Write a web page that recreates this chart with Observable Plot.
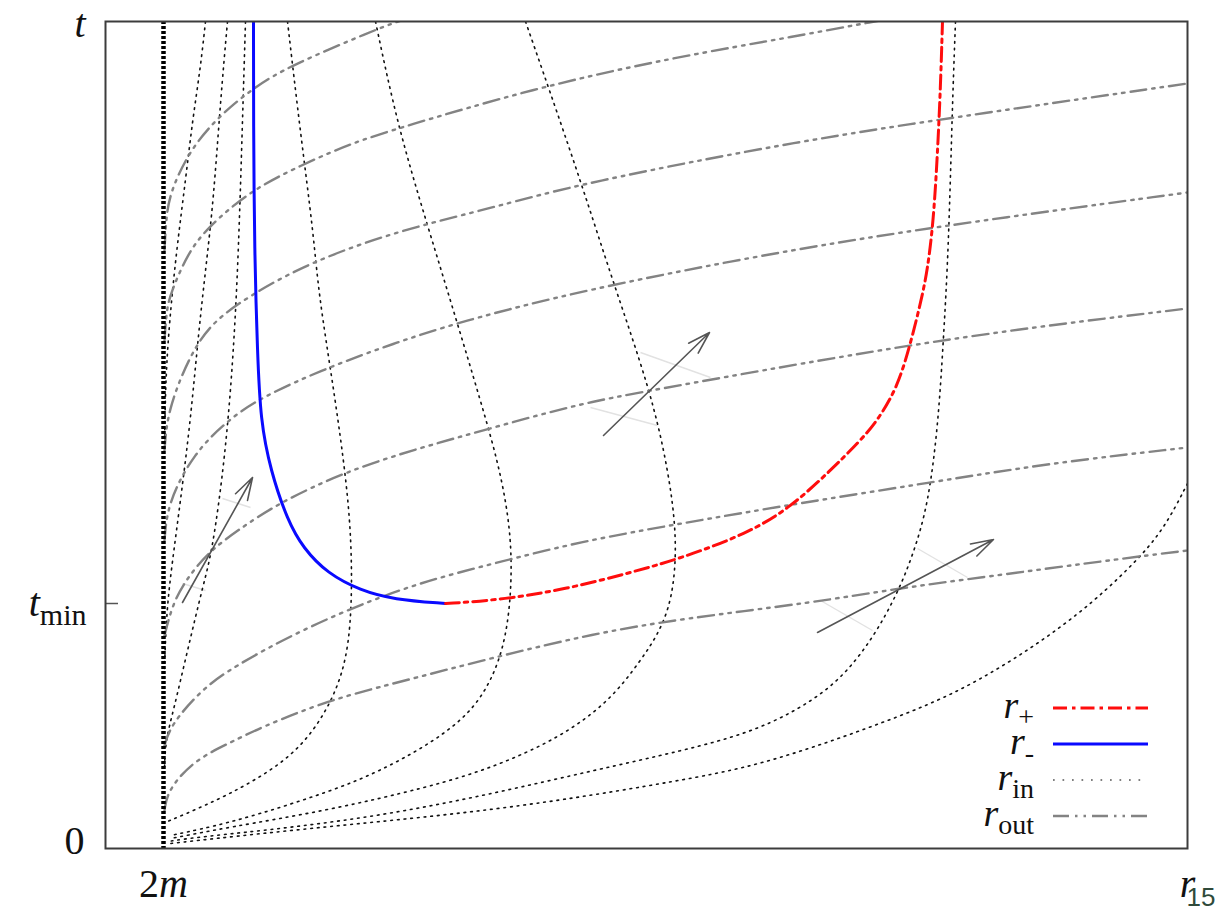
<!DOCTYPE html>
<html><head><meta charset="utf-8">
<script src="https://cdn.jsdelivr.net/npm/d3@7"></script>
<script src="https://cdn.jsdelivr.net/npm/@observablehq/plot@0.6"></script>
<style>
html,body{margin:0;padding:0;background:#fff;}
#chart{position:relative;width:1222px;height:912px;}
</style></head><body><div id="chart"></div>
<script>
// Reading scale of the figure: r to the right of the frame's left edge, t upward from 0
const rMax = 1082, tMax = 827;
const r2m = 58, tMin = 245;

const yTickValues = [0, tMin, tMax];
const yTickLabels = ["0", "$t$_min", "$t$"];
const xTickValues = [r2m, rMax];
const xTickLabels = ["2$m$", "$r$"];

// ingoing rays r_in  ([r, t] pairs)
const rIn1 = [[100,827],[95,781],[87,728],[80,668],[71,598],[64,528],[60,468],[59,400]];
const rIn2 = [[122,827],[115,748],[108,648],[100,578],[93,515],[85,428],[75,348],[67,288],[61,238],[59,180]];
const rIn3 = [[140,827],[137,728],[133,595],[128,495],[120,395],[107,298],[98,265],[82,198],[68,138],[60,108],[59,80]];
const rIn4 = [[182,827],[195,715],[208,615],[213,555],[228,461],[242,361],[247,288],[245,201],[228,148],[195,98],[145,65],[100,43],[62,27]];
const rIn5 = [[270,827],[292,723],[322,623],[348,538],[375,448],[395,378],[407,308],[405,238],[395,188],[375,148],[348,121],[308,95],[255,68],[188,45],[122,25],[65,13]];
const rIn6 = [[420,827],[443,761],[475,668],[508,565],[545,458],[563,378],[572,308],[567,248],[552,213],[535,188],[505,148],[455,111],[388,81],[322,61],[222,38],[122,21],[65,10]];
const rIn7 = [[850,827],[847,748],[843,598],[838,511],[833,428],[823,345],[808,295],[792,255],[768,211],[735,168],[692,138],[642,115],[578,98],[488,78],[388,55],[288,35],[188,21],[88,11],[63,7]];
const rIn8 = [[1082,365],[1058,318],[1025,281],[975,235],[908,188],[842,151],[775,125],[708,101],[642,81],[575,68],[455,48],[355,35],[255,25],[155,15],[65,5]];

// outgoing rays r_out
const rOutA = [[59,598],[60.5,628],[64,655],[84,698],[112,731],[148,761],[185,783],[268,818],[292,827],[315,834]];
const rOutB = [[59,508],[61,538],[65,555],[82,595],[102,621],[145,658],[195,683],[245,705],[295,721],[428,760],[562,790],[695,813],[768,827],[815,835]];
const rOutC = [[59,398],[62,438],[85,495],[108,528],[148,555],[195,581],[255,605],[322,625],[388,641],[475,665],[695,708],[875,735],[1082,765]];
const rOutD = [[59,308],[62,345],[88,395],[122,428],[155,451],[222,481],[288,505],[352,526],[475,558],[695,601],[875,628],[1082,656]];
const rOutE = [[59,213],[68,248],[85,275],[105,298],[132,318],[172,345],[238,376],[305,398],[388,421],[475,445],[545,458],[695,485],[875,515],[1082,540]];
const rOutF = [[59,103],[65,123],[95,158],[128,182],[195,218],[262,247],[322,268],[388,285],[475,307],[575,325],[692,345],[825,366],[942,385],[1082,401]];
const rOutG = [[59,38],[62,58],[88,88],[125,106],[155,121],[222,148],[288,165],[388,191],[488,215],[578,230],[708,246],[792,260],[875,271],[1025,291],[1082,298]];

// horizons
const rMinus = [[148,827],[148,728],[149,595],[152,495],[155,428],[165,378],[182,328],[198,300],[222,275],[255,258],[288,249],[340,245]];
const rPlus = [[340,245],[388,248],[455,258],[522,275],[575,290],[642,315],[685,341],[725,378],[755,408],[772,428],[792,461],[805,505],[815,545],[822,578],[828,628],[832,695],[835,761],[837,827]];

// future-pointing arrows
const arrowR1 = [77, 498, 712];
const arrowT1 = [246, 413, 216];
const arrowR2 = [147, 604, 888];
const arrowT2 = [371, 516, 309];

// faint light-cone edges beside the arrows
const coneR1 = [117, 77, 535, 485, 812, 715];
const coneT1 = [350, 265, 496, 441, 300, 248];
const coneR2 = [145, 100, 605, 552, 862, 767];
const coneT2 = [341, 258, 471, 423, 271, 218];

const legendLabels = ["$r$_+", "$r$_-", "$r$_in", "$r$_out"];

// ---------- build tables ----------
const tag = (pts, id) => pts.map(([r, t]) => ({r, t, id}));
const inData = [rIn1, rIn2, rIn3, rIn4, rIn5, rIn6, rIn7, rIn8].flatMap((c, i) => tag(c, "in" + i));
const outData = [rOutA, rOutB, rOutC, rOutD, rOutE, rOutF, rOutG].flatMap((c, i) => tag(c, "out" + i));
const minusData = tag(rMinus, "minus");
const plusData = tag(rPlus, "plus");
const arrows = arrowR1.map((r, i) => ({r1: r, t1: arrowT1[i], r2: arrowR2[i], t2: arrowT2[i]}));
const cones = coneR1.map((r, i) => ({r1: r, t1: coneT1[i], r2: coneR2[i], t2: coneT2[i]}));
const yTicks = yTickValues.map((v, i) => ({v, label: yTickLabels[i]}));
const xTicks = xTickValues.map((v, i) => ({v, label: xTickLabels[i]}));

const SERIF = "'Liberation Serif', 'DejaVu Serif', serif";
const MAIN = 40, SUB = 30;
const RED = "#ff0d0d", BLUE = "#0a0aff", GREY = "#838383";
const OUTDASH = "16,6,2.5,6,2.5,6", PLUSDASH = "14,5,3.5,5";

const plot = Plot.plot({
  width: 1222, height: 912,
  marginLeft: 105, marginRight: 35, marginTop: 21, marginBottom: 64,
  x: {domain: [0, rMax], axis: null},
  y: {domain: [0, tMax], axis: null},
  style: {background: "#fff", fontFamily: SERIF},
  marks: [
    Plot.link(cones, {x1: "r1", y1: "t1", x2: "r2", y2: "t2", stroke: "#e2e2e2", strokeWidth: 1.4}),
    Plot.line(inData, {x: "r", y: "t", z: "id", curve: "basis", stroke: "#111", strokeWidth: 1.6, strokeDasharray: "1.7,5", clip: true}),
    Plot.line(outData, {x: "r", y: "t", z: "id", curve: "basis", stroke: GREY, strokeWidth: 2.4, strokeDasharray: OUTDASH, clip: true}),
    Plot.ruleX([r2m], {stroke: "#000", strokeWidth: 4.5, strokeDasharray: "3,2"}),
    Plot.line(minusData, {x: "r", y: "t", curve: "basis", stroke: BLUE, strokeWidth: 3, clip: true}),
    Plot.line(plusData, {x: "r", y: "t", curve: "basis", stroke: RED, strokeWidth: 3, strokeDasharray: PLUSDASH, clip: true}),
    Plot.arrow(arrows, {x1: "r1", y1: "t1", x2: "r2", y2: "t2", stroke: "#555", strokeWidth: 1.6, headLength: 22, headAngle: 34}),
    Plot.ruleY([tMin], {x1: () => 0, x2: () => 13, stroke: "#555", strokeWidth: 1.5}),
    Plot.frame({stroke: "#3c3c3c", strokeWidth: 2}),
    Plot.text(yTicks, {filter: d => d.v === tMin, x: () => 0, y: "v", text: "label", textAnchor: "end", dx: -19, fontSize: MAIN, fill: "#111"}),
    Plot.text(yTicks, {filter: d => d.v === tMax, x: () => 0, y: "v", text: "label", textAnchor: "end", dx: -20, dy: 3, fontSize: MAIN, fill: "#111"}),
    Plot.text(yTicks, {filter: d => d.v === 0, x: () => 0, y: "v", text: "label", textAnchor: "end", dx: -21, dy: -7, fontSize: MAIN, fill: "#111"}),
    Plot.text(xTicks, {x: "v", y: () => 0, text: "label", textAnchor: "middle", dy: 36, fontSize: MAIN, fill: "#111"})
  ]
});

const NS = "http://www.w3.org/2000/svg";
function rich(el, s, subSize) {
  el.textContent = "";
  const [main, sub] = s.split("_");
  main.split("$").forEach((part, i) => {
    if (!part) return;
    const ts = document.createElementNS(NS, "tspan");
    ts.textContent = part;
    if (i % 2 === 1) ts.setAttribute("font-style", "italic");
    el.appendChild(ts);
  });
  if (sub !== undefined) {
    const ts = document.createElementNS(NS, "tspan");
    ts.textContent = sub;
    ts.setAttribute("font-size", subSize);
    ts.setAttribute("dy", "0.3em");
    el.appendChild(ts);
  }
}
plot.querySelectorAll("text").forEach(el => {
  const s = el.textContent;
  if (s.includes("$") || s.includes("_")) rich(el, s, SUB);
});

// legend (inside frame, bottom right)
const svg = d3.select(plot);
const legStyles = [
  {stroke: RED, w: 3, dash: PLUSDASH},
  {stroke: BLUE, w: 3, dash: null},
  {stroke: "#555", w: 1.7, dash: "1.7,7.8"},
  {stroke: GREY, w: 2.4, dash: OUTDASH}
];
const leg = svg.append("g");
legendLabels.forEach((lab, i) => {
  const y = 708 + i * 36;
  const st = legStyles[i];
  leg.append("line").attr("x1", 1053).attr("x2", 1148).attr("y1", y).attr("y2", y)
    .attr("stroke", st.stroke).attr("stroke-width", st.w).attr("stroke-dasharray", st.dash);
  const t = leg.append("text").attr("x", 1034).attr("y", y + 10).attr("text-anchor", "end")
    .attr("font-family", SERIF).attr("font-size", 38).attr("fill", "#111");
  rich(t.node(), lab, 28);
});
// slide number overlay
svg.append("text").attr("x", 1201).attr("y", 906).attr("text-anchor", "middle")
  .attr("font-family", "'Liberation Sans', sans-serif").attr("font-size", 26).attr("fill", "#2f4a3a").text("15");

document.getElementById("chart").appendChild(plot);
</script></body></html>
